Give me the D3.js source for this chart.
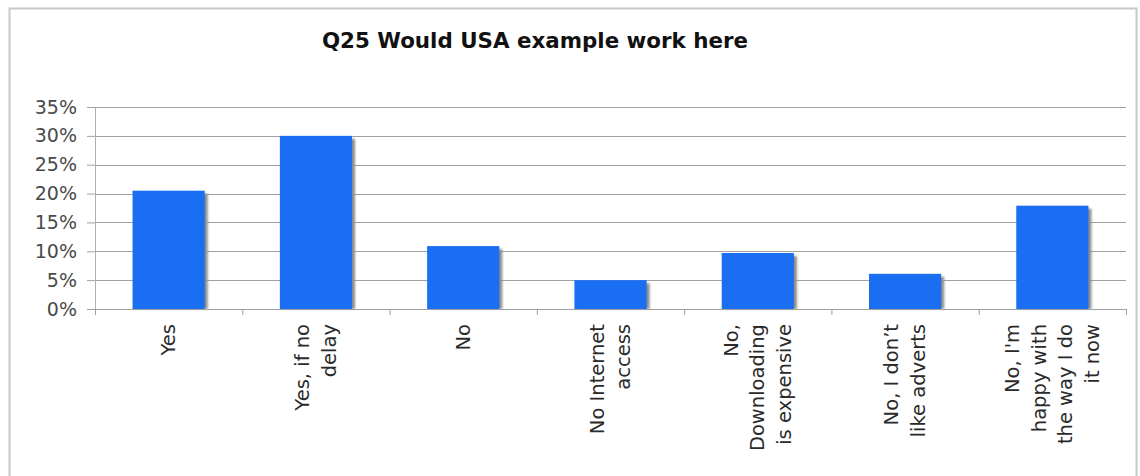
<!DOCTYPE html>
<html>
<head>
<meta charset="utf-8">
<script src="https://cdn.jsdelivr.net/npm/d3@7"></script>
<style>
  html, body { margin: 0; padding: 0; background: #ffffff; }
  svg { display: block; }
</style>
</head>
<body>
<svg id="chart" width="1140" height="476"></svg>
<script>
// Survey answers for Q25
const categories = [
  ["Yes"],
  ["Yes, if no", "delay"],
  ["No"],
  ["No Internet", "access"],
  ["No,", "Downloading", "is expensive"],
  ["No, I don\u2019t", "like adverts"],
  ["No, I'm", "happy with", "the way I do", "it now"]
];
const shares = [0.205, 0.30, 0.109, 0.05, 0.097, 0.061, 0.179];
const yTicks = [0, 0.05, 0.10, 0.15, 0.20, 0.25, 0.30, 0.35];
const title = "Q25 Would USA example work here";

const svg = d3.select("#chart");
const plot = { left: 95, right: 1126, top: 107, bottom: 309 };

// chart frame
svg.append("rect")
  .attr("x", 9.5).attr("y", 8.5)
  .attr("width", 1127).attr("height", 480)
  .attr("fill", "#ffffff")
  .attr("stroke", "#c8c8c8").attr("stroke-width", 2);

const x = d3.scaleBand()
  .domain(d3.range(categories.length))
  .range([plot.left, plot.right])
  .paddingInner(0.51).paddingOuter(0.255);

const xb = d3.scaleBand()
  .domain(d3.range(categories.length))
  .range([plot.left, plot.right]);

const y = d3.scaleLinear().domain([0, 0.35]).range([plot.bottom, plot.top]);

// gridlines
svg.append("g")
  .selectAll("line")
  .data(yTicks.slice(1))
  .join("line")
  .attr("x1", plot.left).attr("x2", plot.right)
  .attr("y1", d => Math.round(y(d)) + 0.5).attr("y2", d => Math.round(y(d)) + 0.5)
  .attr("stroke", "#a0a0a0").attr("stroke-width", 1.2);

// y axis
const yAxis = d3.axisLeft(y).tickValues(yTicks).tickFormat(d3.format(".0%")).tickSizeOuter(0).tickSize(8).tickPadding(10);
const gy = svg.append("g").attr("transform", `translate(${plot.left},0)`).call(yAxis);
gy.select(".domain").attr("stroke", "#b0b0b0");
gy.selectAll(".tick line").attr("stroke", "#a0a0a0");
gy.selectAll(".tick text")
  .attr("font-family", "'DejaVu Sans', Verdana, sans-serif")
  .attr("font-size", 19)
  .attr("fill", "#4a4a4a");

// bar shadows
const defs = svg.append("defs");
defs.append("filter").attr("id", "soft")
  .append("feGaussianBlur").attr("stdDeviation", 1);

svg.append("g")
  .selectAll("rect")
  .data(shares)
  .join("rect")
  .attr("x", (d, i) => x(i) + 3)
  .attr("y", d => y(d) + 3)
  .attr("width", x.bandwidth())
  .attr("height", d => plot.bottom - y(d) - 3)
  .attr("fill", "#8c8c8c")
  .attr("filter", "url(#soft)");

// bars
svg.append("g")
  .selectAll("rect")
  .data(shares)
  .join("rect")
  .attr("x", (d, i) => x(i))
  .attr("y", d => y(d))
  .attr("width", x.bandwidth())
  .attr("height", d => plot.bottom - y(d))
  .attr("fill", "#1a6ef2");

// x axis line and category dividers
const gx = svg.append("g");
gx.append("line")
  .attr("x1", plot.left - 8).attr("x2", plot.right)
  .attr("y1", plot.bottom + 0.5).attr("y2", plot.bottom + 0.5)
  .attr("stroke", "#a0a0a0").attr("stroke-width", 1.2);
gx.selectAll("line.div")
  .data(d3.range(categories.length + 1))
  .join("line")
  .attr("class", "div")
  .attr("x1", i => (i < categories.length ? xb(i) : plot.right) + 0.5)
  .attr("x2", i => (i < categories.length ? xb(i) : plot.right) + 0.5)
  .attr("y1", plot.bottom).attr("y2", plot.bottom + 6)
  .attr("stroke", "#a0a0a0");

// rotated category labels
const lineH = 26.5;
const labels = svg.append("g")
  .selectAll("text")
  .data(categories)
  .join("text")
  .attr("transform", (d, i) => `translate(${xb(i) + xb.bandwidth() / 2},${plot.bottom + 15}) rotate(-90)`)
  .attr("text-anchor", "end")
  .attr("font-family", "'DejaVu Sans', Verdana, sans-serif")
  .attr("font-size", 19.5)
  .attr("fill", "#2a2a2a");
labels.each(function(lines) {
  const t = d3.select(this);
  lines.forEach((ln, j) => {
    t.append("tspan")
      .attr("x", 0)
      .attr("y", (j - (lines.length - 1) / 2) * lineH)
      .attr("dominant-baseline", "central")
      .text(ln);
  });
});

// title
svg.append("text")
  .attr("x", 535).attr("y", 48)
  .attr("text-anchor", "middle")
  .attr("font-family", "'DejaVu Sans', Verdana, sans-serif")
  .attr("font-weight", "bold")
  .attr("font-size", 21.4)
  .attr("fill", "#111")
  .text(title);
</script>
</body>
</html>
